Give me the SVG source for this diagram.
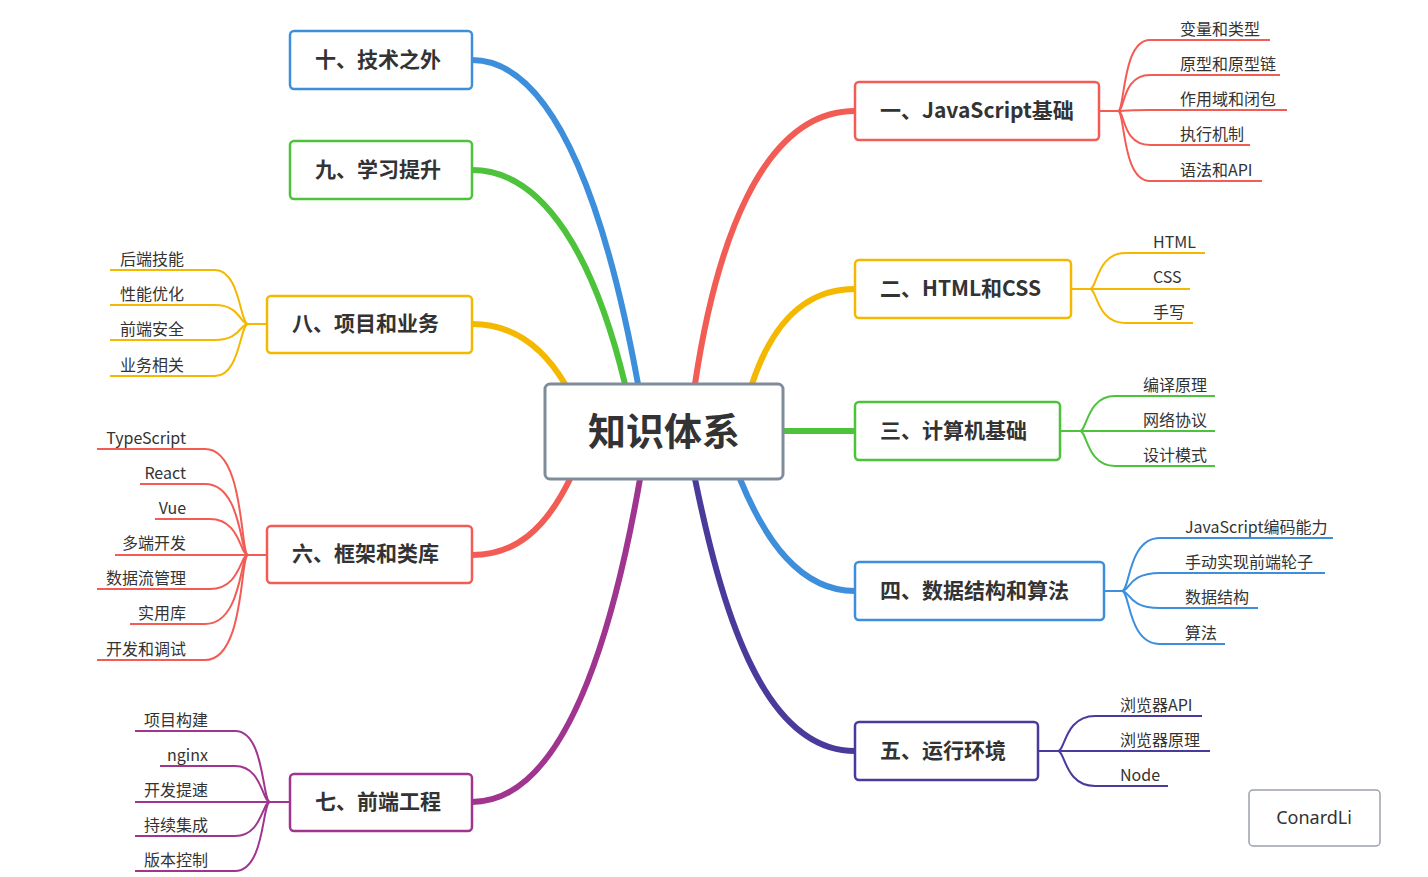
<svg xmlns="http://www.w3.org/2000/svg" width="1428" height="877" viewBox="0 0 1428 877">
<style>
.n{fill:#fff;stroke-width:2.5}
.t{font-family:"Noto Sans CJK SC","Noto Sans",sans-serif;font-size:21px;font-weight:bold;fill:#333}
.c{font-family:"Noto Sans CJK SC","Noto Sans",sans-serif;font-size:16px;fill:#333}
.r{text-anchor:end}
.m{fill:none;stroke-width:6;stroke-linecap:round}
.s{fill:none;stroke-width:2}
</style>
<rect width="1428" height="877" fill="#fff"/>
<g id="connectors">
<path class="m" stroke="#f25c54" d="M695,384 C715,250 760,111 855,111"/>
<path class="m" stroke="#f5b800" d="M752,384 C770,330 800,289 855,289"/>
<path class="m" stroke="#4cc33b" d="M783,431 H855"/>
<path class="m" stroke="#3d8fdc" d="M740,479 C765,540 800,591 855,591"/>
<path class="m" stroke="#4a3a9c" d="M695,479 C720,600 760,751 855,751"/>
<path class="m" stroke="#3d8fdc" d="M638,384 C610,230 560,60 472,60"/>
<path class="m" stroke="#4cc33b" d="M625,384 C595,260 545,170 472,170"/>
<path class="m" stroke="#f5b800" d="M565,384 C545,350 515,324 472,324"/>
<path class="m" stroke="#f25c54" d="M570,479 C545,530 515,555 472,555"/>
<path class="m" stroke="#a0358f" d="M640,479 C610,650 560,802 472,802"/>
<g stroke="#f25c54" class="s">
<path d="M1099,111 H1118 C1125,111 1122,40 1150,40 H1270"/>
<path d="M1099,111 H1118 C1125,111 1122,75 1150,75 H1280"/>
<path d="M1118,111 C1125,111 1122,110 1150,110 H1287"/>
<path d="M1118,111 C1125,111 1122,145 1150,145 H1250"/>
<path d="M1118,111 C1125,111 1122,181 1150,181 H1262"/>
</g>
<g stroke="#f5b800" class="s">
<path d="M1071,289 H1090 C1097,289 1097,253 1125,253 H1205"/>
<path d="M1090,289 H1190"/>
<path d="M1090,289 C1097,289 1097,323 1125,323 H1193"/>
</g>
<g stroke="#4cc33b" class="s">
<path d="M1060,431 H1080 C1087,431 1087,396 1115,396 H1215"/>
<path d="M1080,431 H1215"/>
<path d="M1080,431 C1087,431 1087,466 1115,466 H1215"/>
</g>
<g stroke="#3d8fdc" class="s">
<path d="M1104,591 H1122 C1130,591 1128,538 1160,538 H1333"/>
<path d="M1122,591 C1130,591 1128,573 1160,573 H1325"/>
<path d="M1122,591 C1130,591 1128,608 1160,608 H1258"/>
<path d="M1122,591 C1130,591 1128,644 1160,644 H1225"/>
</g>
<g stroke="#4a3a9c" class="s">
<path d="M1038,751 H1058 C1065,751 1065,716 1095,716 H1202"/>
<path d="M1058,751 H1210"/>
<path d="M1058,751 C1065,751 1065,786 1095,786 H1168"/>
</g>
<g stroke="#f5b800" class="s">
<path d="M267,324 H248 C240,324 240,270 215,270 H110"/>
<path d="M248,324 C240,324 240,305 215,305 H110"/>
<path d="M248,324 C240,324 240,340 215,340 H110"/>
<path d="M248,324 C240,324 240,376 215,376 H110"/>
</g>
<g stroke="#f25c54" class="s">
<path d="M267,555 H248 C240,555 245,449 205,449 H97"/>
<path d="M248,555 C240,555 242,484 205,484 H140"/>
<path d="M248,555 C240,555 240,519 210,519 H155"/>
<path d="M248,555 H115"/>
<path d="M248,555 C240,555 240,589 210,589 H97"/>
<path d="M248,555 C240,555 242,624 205,624 H130"/>
<path d="M248,555 C240,555 245,660 205,660 H97"/>
</g>
<g stroke="#a0358f" class="s">
<path d="M290,802 H270 C262,802 265,731 235,731 H135"/>
<path d="M270,802 C262,802 262,766 235,766 H160"/>
<path d="M270,802 H135"/>
<path d="M270,802 C262,802 262,836 235,836 H135"/>
<path d="M270,802 C262,802 265,871 235,871 H135"/>
</g>
</g>
<g id="center"><rect x="545" y="384" width="238" height="95" rx="5" fill="#fff" stroke="#7f8c9a" stroke-width="3"/><text x="664" y="445" text-anchor="middle" font-family="Noto Sans CJK SC,sans-serif" font-size="38" font-weight="bold" fill="#333">知识体系</text></g>
<g id="n1"><rect class="n" stroke="#f25c54" x="855" y="82" width="244" height="58" rx="4"/><text class="t" x="880" y="118">一、JavaScript基础</text></g>
<g id="n2"><rect class="n" stroke="#f5b800" x="855" y="260" width="216" height="58" rx="4"/><text class="t" x="880" y="296">二、HTML和CSS</text></g>
<g id="n3"><rect class="n" stroke="#4cc33b" x="855" y="402" width="205" height="58" rx="4"/><text class="t" x="880" y="438">三、计算机基础</text></g>
<g id="n4"><rect class="n" stroke="#3d8fdc" x="855" y="562" width="249" height="58" rx="4"/><text class="t" x="880" y="598">四、数据结构和算法</text></g>
<g id="n5"><rect class="n" stroke="#4a3a9c" x="855" y="722" width="183" height="58" rx="4"/><text class="t" x="880" y="758">五、运行环境</text></g>
<g id="n10"><rect class="n" stroke="#3d8fdc" x="290" y="31" width="182" height="58" rx="4"/><text class="t" x="315" y="67">十、技术之外</text></g>
<g id="n9"><rect class="n" stroke="#4cc33b" x="290" y="141" width="182" height="58" rx="4"/><text class="t" x="315" y="177">九、学习提升</text></g>
<g id="n8"><rect class="n" stroke="#f5b800" x="267" y="296" width="205" height="57" rx="4"/><text class="t" x="292" y="331">八、项目和业务</text></g>
<g id="n6"><rect class="n" stroke="#f25c54" x="267" y="526" width="205" height="57" rx="4"/><text class="t" x="292" y="561">六、框架和类库</text></g>
<g id="n7"><rect class="n" stroke="#a0358f" x="290" y="774" width="182" height="57" rx="4"/><text class="t" x="315" y="809">七、前端工程</text></g>
<g id="leaves">
<text class="c" x="1180" y="35">变量和类型</text><text class="c" x="1180" y="70">原型和原型链</text><text class="c" x="1180" y="105">作用域和闭包</text><text class="c" x="1180" y="140">执行机制</text><text class="c" x="1180" y="176">语法和API</text>
<text class="c" x="1153" y="248">HTML</text><text class="c" x="1153" y="283">CSS</text><text class="c" x="1153" y="318">手写</text>
<text class="c" x="1143" y="391">编译原理</text><text class="c" x="1143" y="426">网络协议</text><text class="c" x="1143" y="461">设计模式</text>
<text class="c" x="1185" y="533">JavaScript编码能力</text><text class="c" x="1185" y="568">手动实现前端轮子</text><text class="c" x="1185" y="603">数据结构</text><text class="c" x="1185" y="639">算法</text>
<text class="c" x="1120" y="711">浏览器API</text><text class="c" x="1120" y="746">浏览器原理</text><text class="c" x="1120" y="781">Node</text>
<text class="c" x="120" y="265">后端技能</text><text class="c" x="120" y="300">性能优化</text><text class="c" x="120" y="335">前端安全</text><text class="c" x="120" y="371">业务相关</text>
<text class="c r" x="186" y="444">TypeScript</text><text class="c r" x="186" y="479">React</text><text class="c r" x="186" y="514">Vue</text><text class="c r" x="186" y="549">多端开发</text><text class="c r" x="186" y="584">数据流管理</text><text class="c r" x="186" y="619">实用库</text><text class="c r" x="186" y="655">开发和调试</text>
<text class="c r" x="208" y="726">项目构建</text><text class="c r" x="208" y="761">nginx</text><text class="c r" x="208" y="796">开发提速</text><text class="c r" x="208" y="831">持续集成</text><text class="c r" x="208" y="866">版本控制</text>
</g>
<g id="watermark"><rect x="1249" y="790" width="131" height="56" rx="4" fill="#fff" stroke="#9aa3ab" stroke-width="1.5"/><text x="1314" y="824" text-anchor="middle" font-family="Noto Sans,sans-serif" font-size="18" fill="#333">ConardLi</text></g>
</svg>
